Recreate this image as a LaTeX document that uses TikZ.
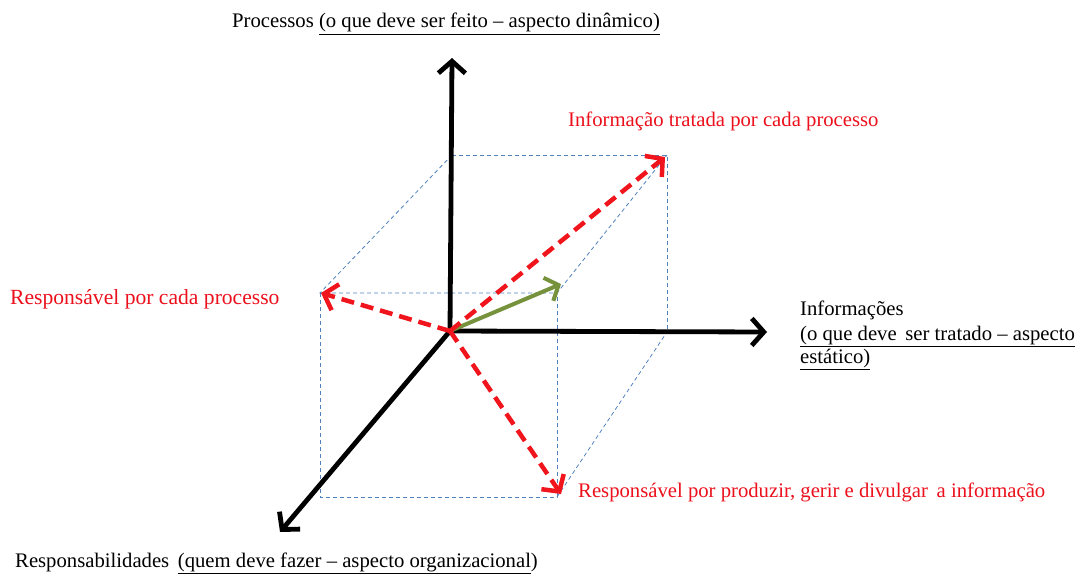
\documentclass[tikz,border=0pt]{standalone}
\usepackage{fontspec}
\setmainfont{Liberation Serif}
\usetikzlibrary{arrows.meta}
\definecolor{redA}{RGB}{240,20,28}
\definecolor{redT}{RGB}{235,16,28}
\definecolor{greenA}{RGB}{118,146,60}
\definecolor{blueD}{RGB}{79,129,189}
\tikzset{
  axis/.style={line width=4.8pt, black, -{Straight Barb[length=12pt,width=27pt]}},
  redarrow/.style={line width=4.5pt, redA, dash pattern=on 13pt off 7pt, -{Straight Barb[length=12pt,width=27pt]}},
  greenarrow/.style={line width=4pt, greenA, -{Straight Barb[length=11pt,width=25pt]}},
  cube/.style={line width=0.8pt, blueD, dash pattern=on 4pt off 3pt},
  lbl/.style={inner sep=0pt, anchor=base west, font=\fontsize{20.7}{23}\selectfont},
  redlbl/.style={lbl, text=redT},
}
\begin{document}
\begin{tikzpicture}[x=1pt,y=-1pt]
\useasboundingbox (0,0) rectangle (1077,578);
% key points
\coordinate (O) at (450,331);
\coordinate (Ztop) at (452,58);
\coordinate (Xend) at (767,332);
\coordinate (Yend) at (280,532);
\coordinate (A) at (452,155);
\coordinate (B) at (667,155);
\coordinate (C) at (320,293);
\coordinate (D) at (557,293);
\coordinate (E) at (667,332);
\coordinate (F) at (320,497);
\coordinate (G) at (557,497);
\coordinate (Rt) at (665,157);
\coordinate (Rl) at (321,293);
\coordinate (Rd) at (561,494);
\coordinate (Gt) at (561,284);
% cube
\draw[cube] (A) -- (B) -- (E);
\draw[cube] (A) -- (C) -- (D) -- (B);
\draw[cube] (C) -- (F) -- (G) -- (D);
\draw[cube] (G) -- (E);
% axes
\draw[axis] (O) -- (Ztop);
\draw[axis] (O) -- (Xend);
\draw[axis] (O) -- (Yend);
% vectors
\draw[greenarrow] (O) -- (Gt);
\draw[redarrow] (O) -- (Rt);
\draw[redarrow] (O) -- (Rl);
\draw[redarrow] (O) -- (Rd);
% labels
\node[lbl] (proc) at (232,28) {Processos \underline{(o que deve ser feito -- aspecto dinâmico)}};
\node[redlbl] (itp) at (568,126) {Informação tratada por cada processo};
\node[redlbl, font=\fontsize{21.6}{23}\selectfont] (rcp) at (10,304) {Responsável por cada processo};
\node[lbl] (inf1) at (800,315) {Informações};
\node[lbl] (inf2) at (800,340) {\underline{(o que deve\, ser tratado -- aspecto}};
\node[lbl] (inf3) at (800,363) {\underline{estático)}};
\node[redlbl] (rpg) at (578,497) {Responsável por produzir, gerir e divulgar\, a informação};
\node[lbl] (resp) at (15,567) {Responsabilidades\, \underline{(quem deve fazer -- aspecto organizacional})};
\end{tikzpicture}
\end{document}
